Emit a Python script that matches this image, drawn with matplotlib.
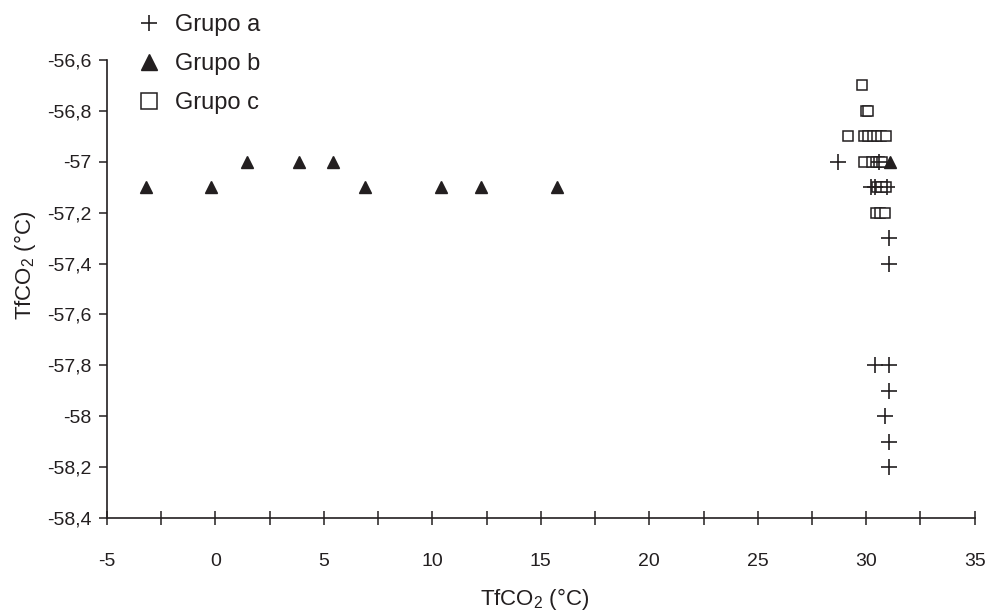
import matplotlib.pyplot as plt
from matplotlib.ticker import MultipleLocator, FuncFormatter

# Grupo a (+)
a_x = [28.7, 30.6, 30.2, 30.4, 30.95, 31.05, 31.05, 30.4, 31.05, 31.05, 30.85, 31.05, 31.05]
a_y = [-57.0, -57.0, -57.1, -57.1, -57.1, -57.3, -57.4, -57.8, -57.8, -57.9, -58.0, -58.1, -58.2]

# Grupo b (triángulos)
b_x = [-3.2, -0.2, 1.45, 3.85, 5.4, 6.9, 10.4, 12.25, 15.75, 31.1]
b_y = [-57.1, -57.1, -57.0, -57.0, -57.0, -57.1, -57.1, -57.1, -57.1, -57.0]

# Grupo c (cuadrados)
c_x = [29.8, 30.0, 30.1, 29.15, 29.9, 30.1, 30.3, 30.5, 30.7, 30.9,
       29.9, 30.25, 30.45, 30.6, 30.75, 30.5, 30.7, 30.9, 30.45, 30.65, 30.85]
c_y = [-56.7, -56.8, -56.8, -56.9, -56.9, -56.9, -56.9, -56.9, -56.9, -56.9,
       -57.0, -57.0, -57.0, -57.0, -57.0, -57.1, -57.1, -57.1, -57.2, -57.2, -57.2]

plt.rcParams['font.family'] = ['Liberation Sans', 'DejaVu Sans']
plt.rcParams['mathtext.fontset'] = 'custom'
plt.rcParams['mathtext.rm'] = 'Liberation Sans'
plt.rcParams['mathtext.it'] = 'Liberation Sans'
plt.rcParams['axes.unicode_minus'] = False

txt = '#231f20'

fig = plt.figure(figsize=(9.86, 6.1), dpi=100)
ax = fig.add_axes([0.1085, 0.151, 0.8800, 0.7506])

ax.plot(a_x, a_y, ls='none', marker='+', ms=11, mew=1.2, color=txt, label='Grupo a', zorder=3)
ax.plot(b_x, b_y, ls='none', marker='^', ms=8.5, color=txt, mec=txt, label='Grupo b', zorder=4)
ax.plot(c_x, c_y, ls='none', marker='s', ms=7.2, mfc='white', mec=txt, mew=1.1, label='Grupo c', zorder=2)

ax.set_xlim(-5, 35)
ax.set_ylim(-58.4, -56.6)
ax.xaxis.set_major_locator(MultipleLocator(5))
ax.xaxis.set_minor_locator(MultipleLocator(2.5))
ax.yaxis.set_major_locator(MultipleLocator(0.2))

def comma(v, pos):
    s = ('%.1f' % v).rstrip('0').rstrip('.')
    return s.replace('.', ',')

ax.yaxis.set_major_formatter(FuncFormatter(comma))

for side in ['top', 'right']:
    ax.spines[side].set_visible(False)
for side in ['left', 'bottom']:
    ax.spines[side].set_color(txt)
    ax.spines[side].set_linewidth(1.2)

ax.tick_params(axis='x', which='both', direction='inout', length=10, width=1.1,
               colors=txt, labelsize=14, pad=20)
ax.tick_params(axis='y', direction='out', length=6, width=1.1, colors=txt,
               labelsize=14, pad=5)

ax.set_xlabel('TfCO$_2$ (°C)', fontsize=16, color=txt)
ax.xaxis.set_label_coords(0.493, -0.148)
ax.set_ylabel('TfCO$_2$ (°C)', fontsize=16, color=txt)
ax.yaxis.set_label_coords(-0.08, 0.552)

leg = fig.legend(loc='upper left', bbox_to_anchor=(0.118, 1.012), frameon=False,
                 fontsize=17, handlelength=1.0, handletextpad=0.6, labelspacing=0.72,
                 labelcolor=txt)
for h, ms in zip(leg.legend_handles, [11, 12, 11]):
    h.set_markersize(ms)

fig.savefig('out.png', dpi=100)
